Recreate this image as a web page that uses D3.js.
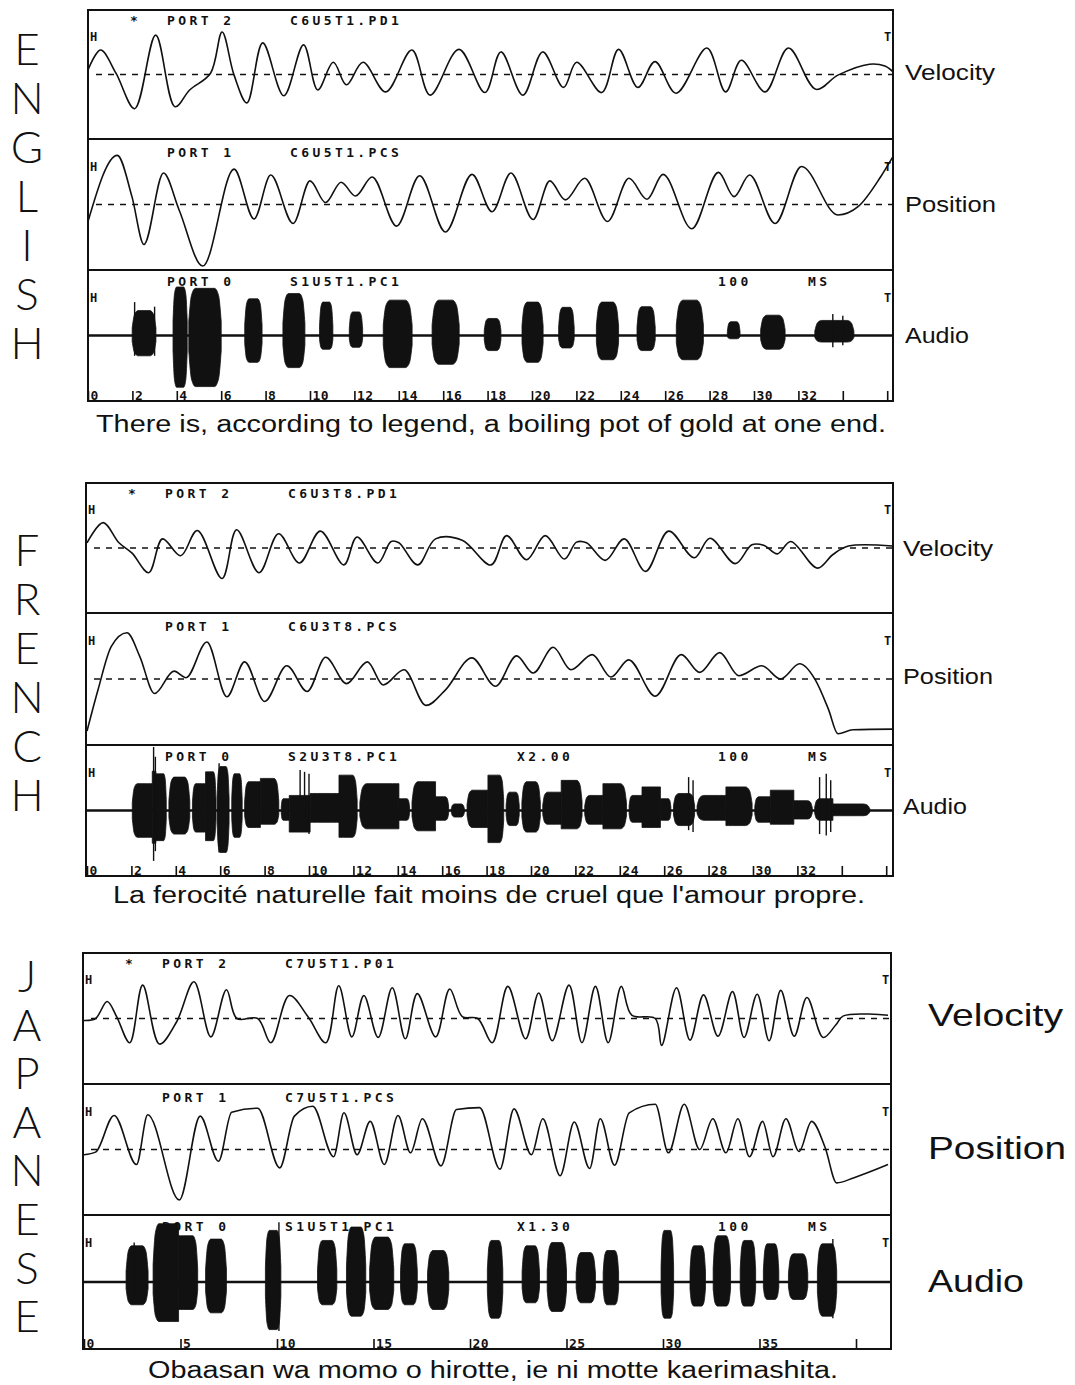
<!DOCTYPE html>
<meta charset="utf-8">
<script src="https://d3js.org/d3.v7.min.js"></script>
<style>
  body { margin: 0; background: #fff; }
  svg { display: block; }
  .mono { font-family: "DejaVu Sans Mono", monospace; font-weight: bold; font-size: 13px; letter-spacing: 3.4px; fill: #111; }
  .mark { font-family: "DejaVu Sans Mono", monospace; font-weight: bold; font-size: 12px; fill: #111; }
  .lbl { font-family: "Liberation Sans", Arial, sans-serif; fill: #111; }
  .word { font-family: Lato, "Liberation Sans", sans-serif; font-weight: 300; font-size: 44px; fill: #111; }
</style>

<div id="chart"></div>

<script>

// ---- data (time in tick units, amplitude in % of half panel) ----

var engVelocity = [[0,7],[0.57,38],[1.26,2],[2.1,-53],[3.05,61],[3.92,-50],[4.58,-24],[5.52,2],[6.04,66],[6.58,-1],[7.16,-44],[7.87,49],[8.82,-33],[9.71,46],[10.35,-24],[11.05,19],[11.64,-16],[12.39,19],[13.41,-27],[14.59,38],[15.41,-32],[16.71,39],[17.88,-28],[18.6,35],[19.59,-32],[20.48,35],[21.42,-20],[22.01,19],[23.14,-28],[23.9,39],[24.77,-20],[25.54,20],[26.49,-29],[27.88,41],[28.72,-27],[29.43,22],[30.5,-27],[31.55,41],[32.79,-23],[33.78,-1],[35.2,16],[35.9,13],[36.26,4]];
var engPosition = [[0,-26],[1.32,75],[1.98,12],[2.52,-61],[3.4,48],[4.1,-8],[5.17,-94],[6.58,54],[7.48,-22],[8.23,45],[9.24,-29],[10.0,36],[10.7,3],[11.4,34],[12.05,13],[12.8,42],[13.9,-33],[14.94,44],[16.1,-42],[17.3,46],[18.2,-11],[19.05,48],[20.05,-23],[20.8,36],[21.5,7],[22.37,40],[23.4,-26],[24.37,40],[25.18,8],[25.9,46],[27.2,-37],[28.4,49],[29.1,12],[29.8,45],[30.95,-29],[32.14,58],[33.78,-16],[34.7,-3],[35.7,42],[36.26,73]];
// audio bursts: [start, end, top, bottom]
var engBursts = [[1.99,3.06,38,-31],[3.83,4.47,74,-79],[4.54,6.0,72,-78],[7.06,7.84,56,-41],[8.78,9.77,64,-49],[10.43,11.03,51,-21],[11.77,12.37,36,-18],[13.3,14.6,54,-49],[15.5,16.72,54,-44],[17.85,18.6,26,-23],[19.55,20.5,51,-41],[21.2,21.9,43,-19],[22.9,23.9,51,-37],[24.73,25.55,44,-23],[26.5,27.72,54,-37],[28.8,29.37,21,-5],[30.3,31.4,31,-21],[32.74,34.5,23,-10]];
var engSpikes = [[2.1,51,-31],[3.0,44,-31],[33.55,33,-18],[34.0,30,-15]];

var freVelocity = [[0,8],[0.73,39],[1.44,8],[2.03,-8],[2.78,-38],[3.4,14],[4.22,-12],[4.97,27],[6.08,-47],[6.74,28],[7.75,-38],[8.63,22],[9.57,-23],[10.51,26],[11.57,-26],[12.16,17],[13.1,-23],[13.7,10],[14.05,8],[14.9,-26],[15.7,14],[16.9,12],[18.2,-26],[18.9,19],[19.8,-18],[20.64,19],[21.5,-17],[22.05,9],[22.5,8],[23.35,-19],[24.2,14],[25.16,-36],[26.2,26],[27.35,-15],[28.06,15],[29.2,-24],[29.95,5],[30.5,4],[31.1,-9],[31.7,10],[32.9,-31],[33.6,-10],[34.3,3],[36.3,3]];
var frePosition = [[0,-79],[0.5,-16],[1.09,49],[1.8,70],[2.38,34],[3.04,-22],[3.92,12],[4.46,2],[5.4,56],[6.3,-27],[7.1,26],[8.0,-34],[9.0,20],[9.92,-19],[10.75,33],[11.69,-7],[12.63,26],[13.34,-9],[14.28,14],[15.27,-40],[16.16,-16],[17.34,32],[18.4,-11],[19.35,35],[20.1,9],[21.0,48],[21.8,14],[22.76,37],[23.6,3],[24.4,29],[25.6,-26],[26.77,37],[27.6,10],[28.5,40],[29.36,5],[30.4,20],[31.24,0],[32.1,23],[32.8,-1],[33.4,-46],[33.83,-83],[34.5,-77],[36.3,-76]];
var freBursts = [[2.04,2.94,41,-41],[2.94,3.1,60,-50],[3.1,3.57,56,-46],[3.69,4.63,51,-36],[4.75,5.34,41,-33],[5.34,5.81,59,-46],[5.86,6.4,67,-64],[6.52,6.99,56,-41],[7.1,7.81,44,-26],[7.81,8.64,49,-21],[8.75,9.11,18,-15],[9.11,10.05,23,-33],[10.05,11.35,26,-18],[11.35,12.17,54,-41],[12.29,14.05,41,-28],[14.05,14.53,18,-15],[14.64,15.7,44,-31],[15.7,16.29,21,-15],[16.41,17.0,10,-10],[17.12,18.06,31,-26],[18.06,18.77,54,-49],[18.88,19.47,28,-23],[19.59,20.42,44,-33],[20.53,21.36,28,-21],[21.36,22.3,46,-28],[22.42,23.24,23,-21],[23.24,24.3,41,-28],[24.42,25.0,23,-18],[25.0,25.83,36,-26],[25.83,26.3,18,-15],[26.42,27.37,26,-23],[27.48,28.78,23,-15],[28.78,29.96,36,-23],[30.08,30.78,21,-18],[30.78,31.84,31,-21],[31.84,32.67,15,-13],[32.78,33.6,18,-15],[33.6,35.26,10,-8]];
var freSpikes = [[3.0,97,-77],[3.08,82,-62],[5.95,72,-64],[6.1,62,-55],[9.6,62,-33],[9.8,59,-30],[10.0,56,-36],[27.1,51,-30],[27.3,46,-33],[33.0,51,-36],[33.3,56,-38],[33.5,46,-33]];

var jpnVelocity = [[0,-3],[0.6,0],[1.2,26],[1.69,3],[2.37,-37],[3.04,51],[3.91,-39],[4.8,-5],[5.7,56],[6.57,-28],[7.38,44],[7.92,0],[9.0,0],[9.68,-37],[10.64,35],[11.6,3],[12.53,-37],[13.2,50],[13.88,-28],[14.5,35],[15.24,-29],[15.97,47],[16.65,-31],[17.27,38],[18.22,-28],[18.95,45],[19.6,3],[20.4,0],[21.15,-37],[21.96,49],[22.88,-31],[23.56,39],[24.26,-34],[25.13,51],[25.8,-37],[26.5,49],[27.16,-37],[27.84,49],[28.38,5],[29.6,0],[29.93,-41],[30.7,47],[31.4,-33],[32.1,36],[32.85,-27],[33.6,41],[34.2,-29],[34.88,37],[35.5,-34],[36.1,43],[36.8,-27],[37.46,32],[38.3,-29],[38.95,-10],[39.35,4],[41.66,5]];
var jpnPosition = [[0,-8],[0.6,-4],[1.56,52],[2.72,-23],[3.3,53],[4.94,-77],[6.02,51],[6.97,-18],[7.65,57],[9.0,63],[10.14,-28],[10.9,51],[11.85,66],[12.93,-11],[13.47,56],[14.15,-8],[14.83,43],[15.56,-23],[16.27,52],[16.92,-5],[17.53,47],[18.5,-25],[19.3,61],[20.5,64],[21.55,-30],[22.28,62],[23.18,-8],[23.77,47],[24.67,-40],[25.4,42],[26.2,-29],[26.75,47],[27.49,-24],[28.25,56],[29.6,69],[30.28,-5],[31.1,69],[31.9,0],[32.58,47],[33.26,-5],[33.88,47],[34.48,-11],[35.16,43],[35.7,-11],[36.37,47],[37.05,-3],[37.7,43],[38.4,3],[39.0,-51],[39.9,-43],[41.66,-23]];
var jpnBursts = [[2.18,3.32,54,-34],[3.58,4.9,87,-59],[4.9,5.89,69,-41],[6.3,7.38,64,-46],[9.4,10.2,77,-71],[12.1,13.1,62,-34],[13.6,14.6,82,-51],[14.8,16.05,67,-41],[16.4,17.27,57,-34],[17.8,18.9,47,-41],[20.9,21.7,62,-54],[22.7,23.6,54,-31],[24.0,25.0,59,-44],[25.5,26.5,44,-31],[26.9,27.7,47,-34],[29.9,30.55,77,-54],[31.4,32.2,54,-36],[32.6,33.5,69,-36],[34.0,34.8,62,-36],[35.2,36.0,57,-26],[36.5,37.5,42,-26],[38.0,39.0,57,-51]];
var jpnSpikes = [[10.1,89,-73],[38.8,64,-54],[2.6,59,-30]];

// tick labels
var engTicks = [0,2,4,6,8,10,12,14,16,18,20,22,24,26,28,30,32,34,36];
var engTickLabels = ["0","2","4","6","8","10","12","14","16","18","20","22","24","26","28","30","32","",""];
var jpnTicks = [0,5,10,15,20,25,30,35,40];
var jpnTickLabels = ["0","5","10","15","20","25","30","35",""];

// panel header texts
var engHeaders = [["*","PORT 2","C6U5T1.PD1",""],["","PORT 1","C6U5T1.PCS",""],["","PORT 0","S1U5T1.PC1",""]];
var freHeaders = [["*","PORT 2","C6U3T8.PD1",""],["","PORT 1","C6U3T8.PCS",""],["","PORT 0","S2U3T8.PC1","X2.00"]];
var jpnHeaders = [["*","PORT 2","C7U5T1.P01",""],["","PORT 1","C7U5T1.PCS",""],["","PORT 0","S1U5T1.PC1","X1.30"]];

var panelNames = ["Velocity","Position","Audio"];
var words = ["ENGLISH","FRENCH","JAPANESE"];
var captions = [
  "There is, according to legend, a boiling pot of gold at one end.",
  "La ferocité naturelle fait moins de cruel que l'amour propre.",
  "Obaasan wa momo o hirotte, ie ni motte kaerimashita."
];

// ---- layout ----
var sections = [
  {velocity: engVelocity, position: engPosition, bursts: engBursts, spikes: engSpikes,
   ticks: engTicks, tickLabels: engTickLabels, headers: engHeaders, word: words[0], caption: captions[0],
   left: 88, right: 893, top: 10, d1: 139, d2: 270, bottom: 401, xDomain: [0,36], xRange: [88, 887.2],
   labelX: 905, labelSize: 22, labelBase: [80,212,343], labelLen: [90,91,64],
   capY: 432, capX: [96,886], wordY: 65, wordStep: 49},
  {velocity: freVelocity, position: frePosition, bursts: freBursts, spikes: freSpikes,
   ticks: engTicks, tickLabels: engTickLabels, headers: freHeaders, word: words[1], caption: captions[1],
   left: 86, right: 893, top: 483, d1: 613, d2: 745, bottom: 876, xDomain: [0,36], xRange: [87, 886.2],
   labelX: 903, labelSize: 22, labelBase: [556,684,814], labelLen: [90,90,64],
   capY: 903, capX: [113,865], wordY: 566, wordStep: 49},
  {velocity: jpnVelocity, position: jpnPosition, bursts: jpnBursts, spikes: jpnSpikes,
   ticks: jpnTicks, tickLabels: jpnTickLabels, headers: jpnHeaders, word: words[2], caption: captions[2],
   left: 83, right: 891, top: 953, d1: 1084, d2: 1215, bottom: 1349, xDomain: [0,40], xRange: [84, 856],
   labelX: 928, labelSize: 32, labelBase: [1026,1159,1292], labelLen: [135,138,96],
   capY: 1378, capX: [148,838], wordY: 992, wordStep: 48.6}
];

var svg = d3.select("#chart").append("svg")
  .attr("width", 1075)
  .attr("height", 1385);

sections.forEach(drawSection);

function drawSection(s) {
  var g = svg.append("g");
  var x = d3.scaleLinear().domain(s.xDomain).range(s.xRange);
  var bands = [[s.top, s.d1], [s.d1, s.d2], [s.d2, s.bottom]];
  var y = bands.map(function(b) { return d3.scaleLinear().domain([-100, 100]).range([b[1], b[0]]); });

  var headDy = [15, 18, 16], hDy = [31, 32, 32];

  // header texts and H / T markers
  bands.forEach(function(b, i) {
    var h = s.headers[i], hy = b[0] + headDy[i];
    if (h[0]) g.append("text").attr("class", "mono").attr("x", s.left + 42).attr("y", hy).text(h[0]);
    g.append("text").attr("class", "mono").attr("x", s.left + 79).attr("y", hy).text(h[1]);
    g.append("text").attr("class", "mono").attr("x", s.left + 202).attr("y", hy).text(h[2]);
    if (i == 2) {
      if (h[3]) g.append("text").attr("class", "mono").attr("x", 517).attr("y", hy).text(h[3]);
      g.append("text").attr("class", "mono").attr("x", 718).attr("y", hy).text("100");
      g.append("text").attr("class", "mono").attr("x", 808).attr("y", hy).text("MS");
    }
    g.append("text").attr("class", "mark").attr("x", s.left + 2).attr("y", b[0] + hDy[i]).text("H");
    g.append("text").attr("class", "mark").attr("x", s.right - 9).attr("y", b[0] + hDy[i]).text("T");
  });

  // dashed zero lines
  [0, 1].forEach(function(i) {
    g.append("line")
      .attr("x1", s.left + 8).attr("x2", s.right)
      .attr("y1", y[i](0)).attr("y2", y[i](0))
      .attr("stroke", "#111").attr("stroke-width", 1.5)
      .attr("stroke-dasharray", "6,6");
  });

  // velocity trace
  g.append("path")
    .datum(s.velocity)
    .attr("d", d3.line()
      .curve(d3.curveCatmullRom.alpha(0.5))
      .x(function(d) { return x(d[0]); })
      .y(function(d) { return y[0](d[1]); }))
    .attr("fill", "none").attr("stroke", "#111")
    .attr("stroke-width", 1.6).attr("stroke-linejoin", "round");

  // position trace
  g.append("path")
    .datum(s.position)
    .attr("d", d3.line()
      .curve(d3.curveMonotoneX)
      .x(function(d) { return x(d[0]); })
      .y(function(d) { return y[1](d[1]); }))
    .attr("fill", "none").attr("stroke", "#111")
    .attr("stroke-width", 1.6);

  // audio: baseline, bursts, spikes
  g.append("line")
    .attr("x1", s.left).attr("x2", s.right)
    .attr("y1", y[2](0)).attr("y2", y[2](0))
    .attr("stroke", "#111").attr("stroke-width", 2.6);

  var area = d3.area()
    .curve(d3.curveMonotoneX)
    .x(function(d) { return x(d[0]); })
    .y0(function(d) { return y[2](d[2]); })
    .y1(function(d) { return y[2](d[1]); });

  s.bursts.forEach(function(b, i) {
    var w = b[1] - b[0];
    var prev = s.bursts[i - 1], next = s.bursts[i + 1];
    var joinL = prev && b[0] - prev[1] < 0.05, joinR = next && next[0] - b[1] < 0.05;
    var kL = joinL ? 1 : 0.3, kR = joinR ? 1 : 0.3;
    var e = Math.min(w * 0.1, 0.12);
    var shape = [
      [b[0], b[2] * kL, b[3] * kL],
      [b[0] + e, b[2] * (joinL ? 1 : 0.85), b[3] * (joinL ? 1 : 0.85)],
      [b[0] + 2.5 * e, b[2], b[3]],
      [b[1] - 2.5 * e, b[2], b[3]],
      [b[1] - e, b[2] * (joinR ? 1 : 0.85), b[3] * (joinR ? 1 : 0.85)],
      [b[1], b[2] * kR, b[3] * kR]
    ];
    g.append("path").attr("d", area(shape))
      .attr("fill", "#111").attr("stroke", "#111").attr("stroke-width", 0.8);
  });

  g.selectAll(null)
    .data(s.spikes)
    .enter()
    .append("line")
      .attr("x1", function(d) { return x(d[0]); })
      .attr("x2", function(d) { return x(d[0]); })
      .attr("y1", function(d) { return y[2](d[1]); })
      .attr("y2", function(d) { return y[2](d[2]); })
      .attr("stroke", "#111").attr("stroke-width", 1.4);

  // time axis inside the bottom of the box
  var ax = g.append("g")
    .attr("transform", "translate(0," + (s.bottom - 10) + ")")
    .call(d3.axisBottom(x)
      .tickValues(s.ticks)
      .tickFormat(function(d, i) { return s.tickLabels[i]; })
      .tickSize(9));
  ax.select(".domain").remove();
  ax.selectAll(".tick line").attr("stroke", "#111").attr("stroke-width", 1.6);
  ax.selectAll(".tick text")
    .attr("x", 2).attr("y", 8.5).attr("dy", 0)
    .attr("text-anchor", "start")
    .attr("fill", "#111")
    .style("font-family", "\"DejaVu Sans Mono\", monospace")
    .style("font-weight", "bold")
    .style("font-size", "13px")
    .style("letter-spacing", "0.5px");

  // box and dividers
  g.append("rect")
    .attr("x", s.left).attr("y", s.top)
    .attr("width", s.right - s.left).attr("height", s.bottom - s.top)
    .attr("fill", "none").attr("stroke", "#111").attr("stroke-width", 2);
  [s.d1, s.d2].forEach(function(d) {
    g.append("line").attr("x1", s.left).attr("x2", s.right)
      .attr("y1", d).attr("y2", d)
      .attr("stroke", "#111").attr("stroke-width", 2);
  });

  // panel names on the right
  panelNames.forEach(function(n, i) {
    g.append("text").attr("class", "lbl")
      .attr("x", s.labelX).attr("y", s.labelBase[i])
      .attr("textLength", s.labelLen[i]).attr("lengthAdjust", "spacingAndGlyphs")
      .style("font-size", s.labelSize + "px")
      .text(n);
  });

  // caption
  g.append("text").attr("class", "lbl")
    .attr("x", s.capX[0]).attr("y", s.capY)
    .attr("textLength", s.capX[1] - s.capX[0]).attr("lengthAdjust", "spacingAndGlyphs")
    .style("font-size", "23px")
    .text(s.caption);

  // vertical language name
  s.word.split("").forEach(function(c, i) {
    g.append("text").attr("class", "word")
      .attr("x", 27).attr("y", s.wordY + i * s.wordStep)
      .attr("text-anchor", "middle")
      .text(c);
  });
}

</script>
